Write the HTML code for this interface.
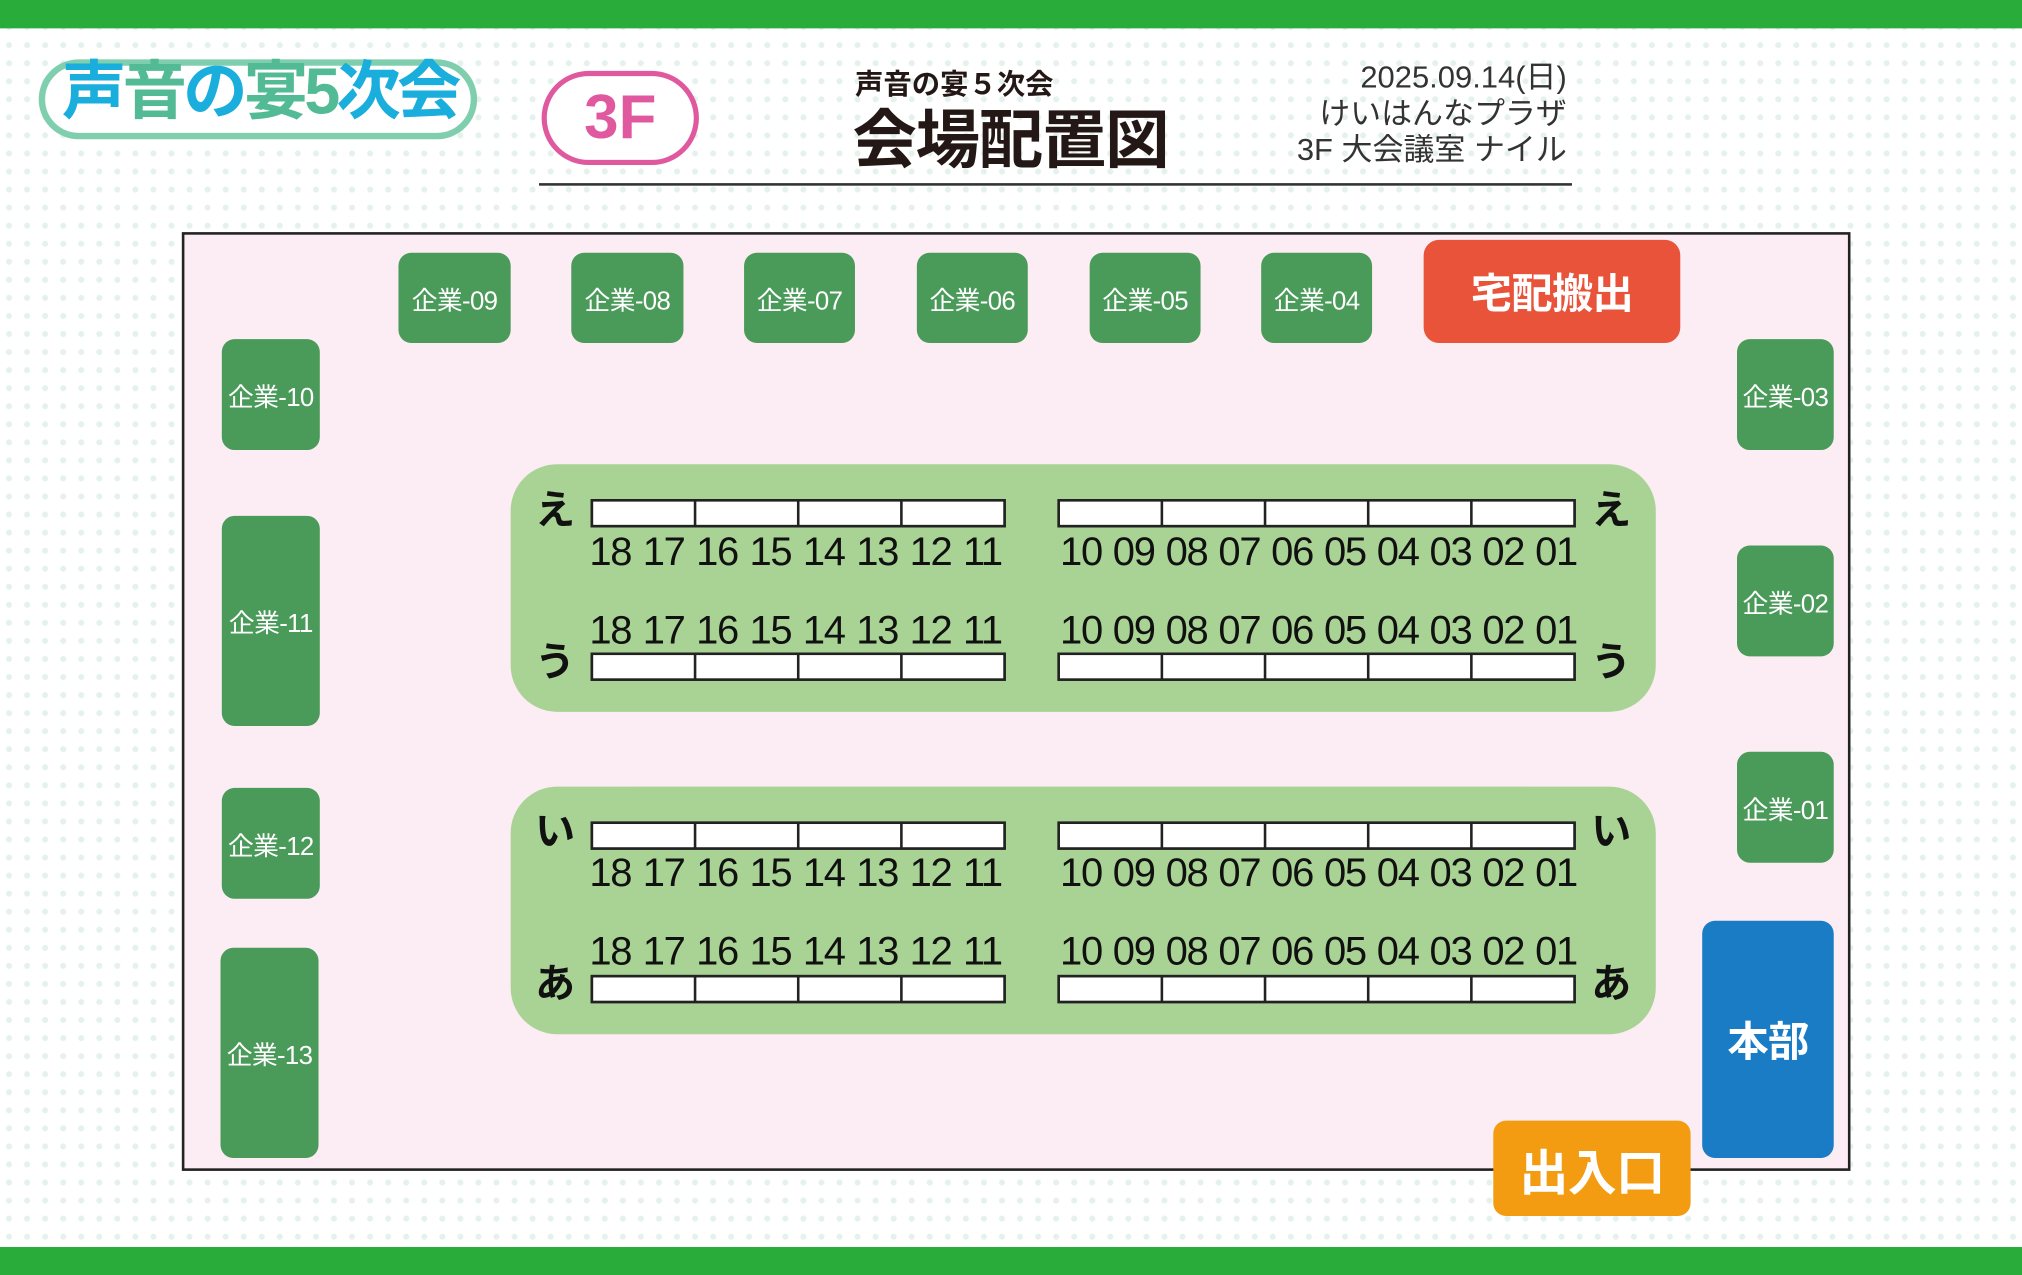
<!DOCTYPE html>
<html><head><meta charset="utf-8">
<style>
html,body{margin:0;padding:0;width:2022px;height:1275px;overflow:hidden;background:#fff;}
#s{position:absolute;left:0;top:0;width:1568px;height:989px;transform:scale(1.28954);transform-origin:0 0;
background-color:#fff;background-image:radial-gradient(circle,#e4f1ec 2px,transparent 2.6px);background-size:14px 14px;
font-family:"Liberation Sans","Noto Sans CJK JP",sans-serif;}
.a{position:absolute;}
.g{position:absolute;background:#4a9a5a;border-radius:10px;color:#fff;font-size:20px;display:flex;align-items:center;justify-content:center;white-space:nowrap;letter-spacing:-0.5px;}
.isl{position:absolute;left:396px;width:888px;height:192px;background:#a9d394;border-radius:36px;}
.tb{position:absolute;height:18px;display:flex;border:2px solid #222;background:#222;gap:2px;}
.tb div{flex:1;background:#fff;}
.nums{position:absolute;display:flex;justify-content:space-between;font-size:31px;color:#111;line-height:30px;letter-spacing:-1px;}
.k{position:absolute;font-size:31px;font-weight:bold;color:#111;line-height:30px;}
</style></head><body>
<div id="s">
<div class="a" style="left:0;top:0;width:1568px;height:22px;background:#2aac3a"></div>
<div class="a" style="left:0;top:967px;width:1568px;height:22px;background:#2aac3a"></div>

<!-- logo -->
<div class="a" style="left:30px;top:46px;width:340px;height:62px;border:5px solid #7fcfae;border-radius:34px;background:#fff;box-sizing:border-box"></div>
<div class="a" style="left:48px;top:36px;font-size:50px;font-weight:bold;line-height:70px;letter-spacing:-3px;white-space:nowrap"><span style="color:#1aaedc">声</span><span style="color:#52bb96">音</span><span style="color:#1aaedc">の</span><span style="color:#52bb96">宴</span><span style="color:#52bb96">5</span><span style="color:#1aaedc">次会</span></div>

<div class="a" style="left:420px;top:55px;width:122px;height:73px;box-sizing:border-box;border:4px solid #e0589e;border-radius:37px;background:#fff;color:#e0589e;font-size:48px;font-weight:bold;text-align:center;line-height:66px">3F</div>

<div class="a" style="left:663px;top:53px;font-size:22px;font-weight:bold;color:#231815;line-height:26px">声音の宴５次会</div>
<div class="a" style="left:661px;top:80px;font-size:50px;font-weight:bold;color:#231815;line-height:58px;letter-spacing:-1px">会場配置図</div>
<div class="a" style="right:353px;top:47px;font-size:24px;color:#333;line-height:28px;text-align:right;white-space:nowrap">2025.09.14(日)<br>けいはんなプラザ<br>3F 大会議室 ナイル</div>
<div class="a" style="left:418px;top:142px;width:801px;height:2px;background:#333"></div>

<div class="a" style="left:141px;top:180px;width:1290px;height:724px;border:2px solid #222;background:#fcecf3"></div>

<div class="g" style="left:309px;top:196px;width:87px;height:70px">企業-09</div>
<div class="g" style="left:443px;top:196px;width:87px;height:70px">企業-08</div>
<div class="g" style="left:577px;top:196px;width:86px;height:70px">企業-07</div>
<div class="g" style="left:711px;top:196px;width:86px;height:70px">企業-06</div>
<div class="g" style="left:845px;top:196px;width:86px;height:70px">企業-05</div>
<div class="g" style="left:978px;top:196px;width:86px;height:70px">企業-04</div>
<div class="g" style="left:1104px;top:186px;width:199px;height:80px;background:#e8533a;border-radius:12px;font-size:32px;font-weight:bold">宅配搬出</div>

<div class="g" style="left:172px;top:263px;width:76px;height:86px">企業-10</div>
<div class="g" style="left:172px;top:400px;width:76px;height:163px">企業-11</div>
<div class="g" style="left:172px;top:611px;width:76px;height:86px">企業-12</div>
<div class="g" style="left:171px;top:735px;width:76px;height:163px">企業-13</div>

<div class="g" style="left:1347px;top:263px;width:75px;height:86px">企業-03</div>
<div class="g" style="left:1347px;top:423px;width:75px;height:86px">企業-02</div>
<div class="g" style="left:1347px;top:583px;width:75px;height:86px">企業-01</div>
<div class="g" style="left:1320px;top:714px;width:102px;height:184px;background:#1a7cc4;font-size:32px;font-weight:bold">本部</div>
<div class="g" style="left:1158px;top:869px;width:153px;height:74px;background:#f39c12;font-size:38px;font-weight:bold">出入口</div>

<div class="isl" style="top:360px"></div>
<div class="isl" style="top:610px"></div>

<!-- island 1 -->
<div class="tb" style="left:458px;top:387px;width:318px"><div></div><div></div><div></div><div></div></div>
<div class="tb" style="left:820px;top:387px;width:398px"><div></div><div></div><div></div><div></div><div></div></div>
<div class="tb" style="left:458px;top:506px;width:318px"><div></div><div></div><div></div><div></div></div>
<div class="tb" style="left:820px;top:506px;width:398px"><div></div><div></div><div></div><div></div><div></div></div>
<div class="nums" style="left:457px;top:413px;width:320px"><span>18</span><span>17</span><span>16</span><span>15</span><span>14</span><span>13</span><span>12</span><span>11</span></div>
<div class="nums" style="left:822px;top:413px;width:401px"><span>10</span><span>09</span><span>08</span><span>07</span><span>06</span><span>05</span><span>04</span><span>03</span><span>02</span><span>01</span></div>
<div class="nums" style="left:457px;top:474px;width:320px"><span>18</span><span>17</span><span>16</span><span>15</span><span>14</span><span>13</span><span>12</span><span>11</span></div>
<div class="nums" style="left:822px;top:474px;width:401px"><span>10</span><span>09</span><span>08</span><span>07</span><span>06</span><span>05</span><span>04</span><span>03</span><span>02</span><span>01</span></div>
<div class="k" style="left:415px;top:381px">え</div><div class="k" style="left:1234px;top:381px">え</div>
<div class="k" style="left:415px;top:499px">う</div><div class="k" style="left:1234px;top:499px">う</div>

<!-- island 2 -->
<div class="tb" style="left:458px;top:637px;width:318px"><div></div><div></div><div></div><div></div></div>
<div class="tb" style="left:820px;top:637px;width:398px"><div></div><div></div><div></div><div></div><div></div></div>
<div class="tb" style="left:458px;top:756px;width:318px"><div></div><div></div><div></div><div></div></div>
<div class="tb" style="left:820px;top:756px;width:398px"><div></div><div></div><div></div><div></div><div></div></div>
<div class="nums" style="left:457px;top:662px;width:320px"><span>18</span><span>17</span><span>16</span><span>15</span><span>14</span><span>13</span><span>12</span><span>11</span></div>
<div class="nums" style="left:822px;top:662px;width:401px"><span>10</span><span>09</span><span>08</span><span>07</span><span>06</span><span>05</span><span>04</span><span>03</span><span>02</span><span>01</span></div>
<div class="nums" style="left:457px;top:723px;width:320px"><span>18</span><span>17</span><span>16</span><span>15</span><span>14</span><span>13</span><span>12</span><span>11</span></div>
<div class="nums" style="left:822px;top:723px;width:401px"><span>10</span><span>09</span><span>08</span><span>07</span><span>06</span><span>05</span><span>04</span><span>03</span><span>02</span><span>01</span></div>
<div class="k" style="left:415px;top:630px">い</div><div class="k" style="left:1234px;top:630px">い</div>
<div class="k" style="left:415px;top:748px">あ</div><div class="k" style="left:1234px;top:748px">あ</div>
</div>
</body></html>
